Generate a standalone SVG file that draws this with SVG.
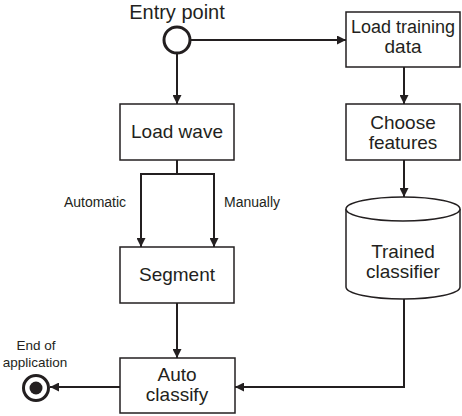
<svg xmlns="http://www.w3.org/2000/svg" width="462" height="416" viewBox="0 0 462 416">
<style>
.box{fill:#fff;stroke:#231f20;stroke-width:1.5}
.ln{fill:none;stroke:#231f20;stroke-width:2}
.t{font-family:"Liberation Sans",Arial,sans-serif;font-size:19px;fill:#231f20;text-anchor:middle}
.s{font-family:"Liberation Sans",Arial,sans-serif;font-size:14px;fill:#231f20;text-anchor:middle}
</style>
<defs>
<marker id="ah" viewBox="0 0 10 10" refX="10" refY="5" markerWidth="9" markerHeight="9" markerUnits="userSpaceOnUse" orient="auto">
<path d="M0,0 L10,5 L0,10 z" fill="#231f20"/>
</marker>
</defs>
<g id="connectors">
<path class="ln" d="M177,54 L177,104" marker-end="url(#ah)"/>
<path class="ln" d="M191,40 L346,40" marker-end="url(#ah)"/>
<path class="ln" d="M404,67 L404,104" marker-end="url(#ah)"/>
<path class="ln" d="M404,160 L404,197" marker-end="url(#ah)"/>
<path class="ln" d="M177,160 L177,174 M141,174 L214,174"/>
<path class="ln" d="M141,173 L141,247" marker-end="url(#ah)"/>
<path class="ln" d="M214,173 L214,247" marker-end="url(#ah)"/>
<path class="ln" d="M177,303 L177,358" marker-end="url(#ah)"/>
<path class="ln" d="M404,299 L404,387 L235,387" marker-end="url(#ah)"/>
<path class="ln" d="M120,387 L50,387" marker-end="url(#ah)"/>
</g>
<g id="entry">
<text class="t" x="177" y="19" style="font-size:20px">Entry point</text>
<circle cx="177" cy="40" r="13" fill="#fff" stroke="#231f20" stroke-width="3"/>
</g>
<g id="load-training">
<rect class="box" x="346" y="12" width="114" height="55"/>
<text class="t" x="403" y="33" style="font-size:18px">Load training</text>
<text class="t" x="403" y="53">data</text>
</g>
<g id="choose-features">
<rect class="box" x="346" y="104" width="114" height="56"/>
<text class="t" x="403" y="129">Choose</text>
<text class="t" x="403" y="149">features</text>
</g>
<g id="trained-classifier">
<path class="box" d="M346,209 A57,12 0 0,1 460,209 L460,287 A57,12 0 0,1 346,287 Z"/>
<path class="box" d="M346,209 A57,12 0 0,0 460,209"/>
<text class="t" x="403" y="258">Trained</text>
<text class="t" x="403" y="278">classifier</text>
</g>
<g id="load-wave">
<rect class="box" x="120" y="104" width="114" height="56"/>
<text class="t" x="177" y="138">Load wave</text>
</g>
<g id="labels">
<text class="s" x="95" y="207">Automatic</text>
<text class="s" x="252" y="207">Manually</text>
</g>
<g id="segment">
<rect class="box" x="120" y="247" width="114" height="56"/>
<text class="t" x="177" y="281">Segment</text>
</g>
<g id="auto-classify">
<rect class="box" x="120" y="358" width="115" height="55"/>
<text class="t" x="177" y="381">Auto</text>
<text class="t" x="177" y="401">classify</text>
</g>
<g id="end">
<text class="s" x="36" y="350" style="font-size:13.5px">End of</text>
<text class="s" x="35" y="367" style="font-size:13.5px">application</text>
<circle cx="36" cy="388" r="12.5" fill="#fff" stroke="#231f20" stroke-width="3"/>
<circle cx="36" cy="388" r="6.5" fill="#231f20"/>
</g>
</svg>
